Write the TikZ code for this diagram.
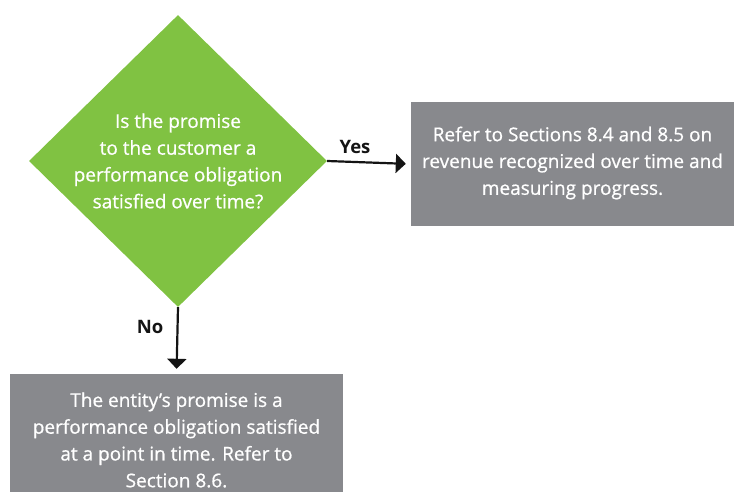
\documentclass[tikz,border=0pt]{standalone}
\usepackage{fontspec}
\setmainfont{Open Sans}[UprightFeatures={FakeBold=0.7}]
\usetikzlibrary{shapes.geometric,arrows.meta}
\definecolor{dgreen}{RGB}{128,194,66}
\definecolor{dgray}{RGB}{136,137,141}
\definecolor{ink}{RGB}{20,20,20}
\begin{document}
\begin{tikzpicture}[x=1pt,y=-1pt,
  txt/.style={text=white, align=center, font=\fontsize{19}{26.8}\selectfont, inner sep=0pt},
  graybox/.style={fill=dgray, draw=none, rectangle, inner sep=0pt},
  lbl/.style={text=ink, font=\fontsize{18.5}{22}\selectfont\bfseries, inner sep=0pt},
  conn/.style={line width=2.2pt, draw=ink, -{Triangle[length=10pt,width=19pt]}, shorten >=5pt}
]
\useasboundingbox (0,0) rectangle (734,492);
% decision diamond
\node[diamond, fill=dgreen, draw=none, minimum width=298pt, minimum height=292pt, inner sep=0pt] (q) at (178,161) {};
\node[txt] (qt) at (178,161) {Is the promise\\to the customer a\\performance obligation\\satisfied over time?};
% boxes
\node[graybox, minimum width=323pt, minimum height=124pt] (r) at (572.5,164) {};
\node[txt] (rt) at (572.5,163) {Refer to Sections 8.4 and 8.5 on\\revenue recognized over time and\\measuring progress.};
\node[graybox, minimum width=333pt, minimum height=118pt] (b) at (176.5,433) {};
\node[txt] (bt) at (176.5,440) {The entity’s promise is a\\performance obligation satisfied\\at a point in time. Refer to\\Section 8.6.};
% connectors
\draw[conn] (q.east) -- (r.west);
\draw[conn] (q.south) -- (b.north);
\node[lbl] (yes) at (355,147) {Yes};
\node[lbl] (no) at (150,327) {No};
\end{tikzpicture}
\end{document}
